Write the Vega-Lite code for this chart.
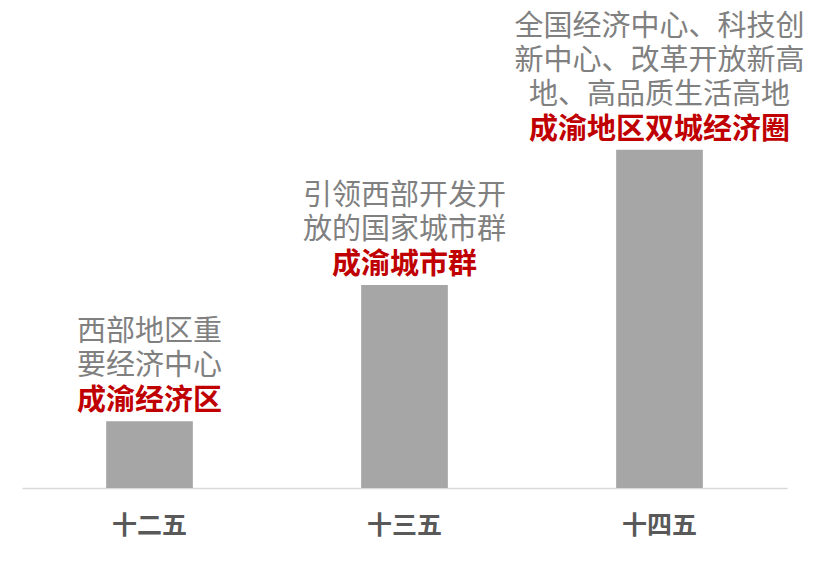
{
  "$schema": "https://vega.github.io/schema/vega-lite/v6.json",
  "width": 765,
  "height": 488,
  "autosize": {"type": "none"},
  "padding": {"left": 22, "top": 0, "right": 40, "bottom": 75},
  "background": "white",
  "config": {
    "view": {"stroke": null},
    "font": "Noto Sans CJK SC"
  },
  "data": {
    "values": [
      {"period": "十二五", "value": 13.7, "top": "", "mid": "西部地区重", "last": "要经济中心", "name": "成渝经济区"},
      {"period": "十三五", "value": 41.6, "top": "", "mid": "引领西部开发开", "last": "放的国家城市群", "name": "成渝城市群"},
      {"period": "十四五", "value": 69.3, "top": "全国经济中心、科技创", "mid": "新中心、改革开放新高", "last": "地、高品质生活高地", "name": "成渝地区双城经济圈"}
    ]
  },
  "encoding": {
    "x": {
      "field": "period",
      "type": "nominal",
      "sort": null,
      "scale": {"paddingInner": 0.66, "paddingOuter": 0.33},
      "axis": {
        "title": null,
        "labelAngle": 0,
        "labelFont": "Noto Sans CJK SC",
        "labelFontSize": 25,
        "labelFontWeight": "bold",
        "labelColor": "#595959",
        "labelPadding": 25,
        "ticks": false,
        "domainColor": "#D9D9D9",
        "domainWidth": 1.5
      }
    },
    "y": {
      "field": "value",
      "type": "quantitative",
      "scale": {"domain": [0, 100]},
      "axis": null
    }
  },
  "layer": [
    {"mark": {"type": "bar", "color": "#A6A6A6"}},
    {
      "mark": {
        "type": "text",
        "baseline": "middle",
        "dy": -20,
        "fontSize": 29,
        "fontWeight": "bold",
        "color": "#C00000"
      },
      "encoding": {"text": {"field": "name"}}
    },
    {
      "mark": {"type": "text", "baseline": "middle", "dy": -55, "fontSize": 29, "color": "#808080"},
      "encoding": {"text": {"field": "last"}}
    },
    {
      "mark": {"type": "text", "baseline": "middle", "dy": -89, "fontSize": 29, "color": "#808080"},
      "encoding": {"text": {"field": "mid"}}
    },
    {
      "mark": {"type": "text", "baseline": "middle", "dy": -123, "fontSize": 29, "color": "#808080"},
      "encoding": {"text": {"field": "top"}}
    }
  ]
}
